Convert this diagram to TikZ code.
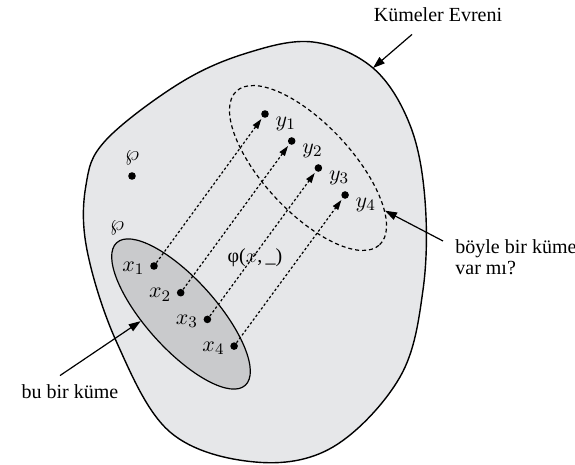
\documentclass[tikz,border=0pt]{standalone}
\usepackage{fontspec}
\setmainfont{Liberation Serif}
\usetikzlibrary{arrows.meta,positioning,shapes.geometric}

\definecolor{evren}{HTML}{E6E7E9}
\definecolor{kume}{HTML}{C9CACC}

\begin{document}
\begin{tikzpicture}[x=0.5pt,y=-0.5pt,
  dot/.style={circle,fill=black,inner sep=0pt,minimum size=3.8pt},
  map/.style={line width=0.6pt,dash pattern=on 1.2pt off 1.1pt,-{Triangle[length=5pt,width=3.2pt]},shorten >=1pt},
  pointer/.style={line width=0.6pt,-{Triangle[length=6pt,width=4pt]}},
  txt/.style={inner sep=0pt,font=\fontsize{10}{10.5}\selectfont},
  mth/.style={inner sep=0pt,font=\fontsize{11}{12}\selectfont}]
\useasboundingbox (0,0) rectangle (575,465);
% kumeler evreni
\draw[fill=evren,line width=0.7pt] plot[smooth cycle,tension=0.6] coordinates {(313,42) (373,68) (410,125) (425,200) (423,290) (400,377) (333,447) (255,462) (170,432) (117,343) (87,250) (86,185) (106,140) (180,83) (247,53)};
\coordinate (u) at (373,68);
\node[txt] (uni) at (438,15) {Kümeler Evreni};
\draw[pointer] ([shift={(-26,12)}]uni.south) -- (u);

% x ve y kumeleri
\node[draw,fill=kume,ellipse,line width=0.6pt,inner sep=0pt,minimum width=96pt,minimum height=35pt,rotate=-48] (A) at (181,314) {};
\node[draw,ellipse,line width=0.6pt,dash pattern=on 2pt off 1.5pt,inner sep=0pt,minimum width=105pt,minimum height=44pt,rotate=-47] (B) at (308,168) {};

\node[mth] (p1) at (132,158) {$\wp$};
\node[dot] (d) at (132,176) {};
\node[mth] (p2) at (117,228) {$\wp$};

\foreach \i in {1,...,4} {
  \node[dot] (x\i) at ({154+26.7*(\i-1)},{266+26.7*(\i-1)}) {};
  \node[dot] (y\i) at ({265+26.7*(\i-1)},{114+27*(\i-1)}) {};
  \node[mth,left=2.5pt of x\i,yshift=-1pt] (lx\i) {$x_\i$};
  \node[mth,right=3pt of y\i,yshift=-5pt] (ly\i) {$y_\i$};
  \draw[map] (x\i) -- (y\i);
}
\node[txt] (phi) at (255,258) {φ($x$,\,\_)};

% etiketler
\node[txt,anchor=north west,align=left] (soru) at (455,239) {böyle bir küme\\var mı?};
\draw[pointer] ([shift={(-12,2)}]soru.north west) -- (B.18);
\node[txt] (bu) at (70,392) {bu bir küme};
\draw[pointer] ([shift={(-10,-9)}]bu.north) -- (A.238);
\end{tikzpicture}
\end{document}
